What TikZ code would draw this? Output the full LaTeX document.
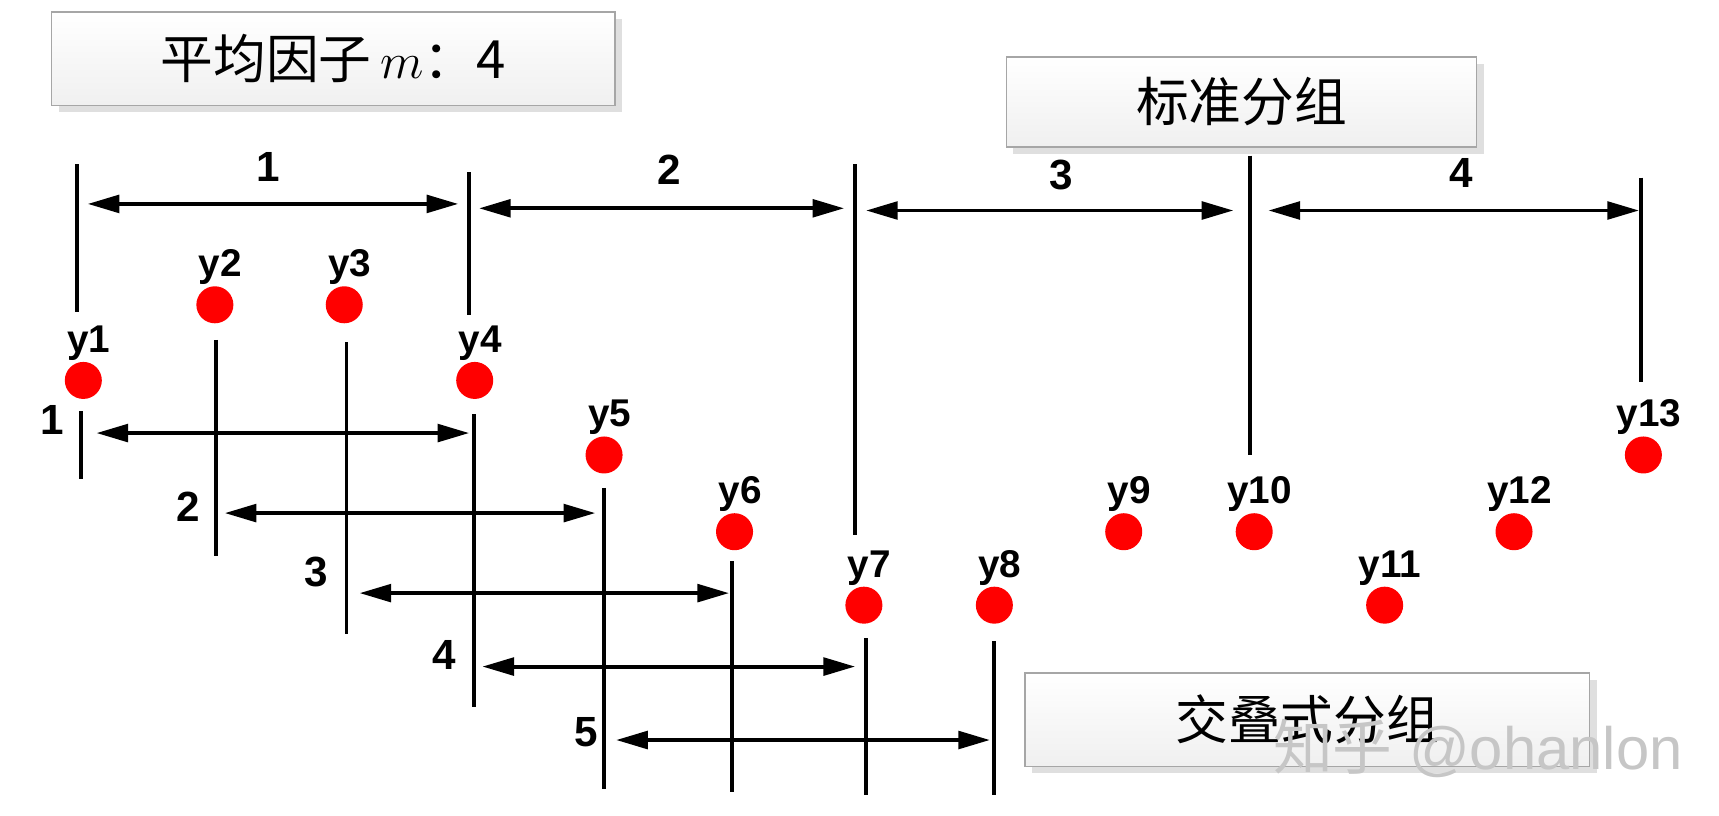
\documentclass[tikz,border=0pt]{standalone}
\usepackage{fontspec}
\setmainfont{Liberation Sans}
\newfontfamily\cjk{Noto Sans CJK SC}
\usetikzlibrary{arrows.meta,shadows}
\begin{document}
\begin{tikzpicture}[x=0.010963cm,y=-0.010963cm,
  dot/.style={circle,fill=red,inner sep=0pt,minimum size=0.37cm},
  lab/.style={font=\fontsize{11}{13}\selectfont\bfseries},
  num/.style={font=\fontsize{12}{14}\selectfont\bfseries},
  bar/.style={line width=1.1pt},
  arr/.style={line width=1.1pt,{Triangle[length=9pt,width=5pt]}-{Triangle[length=9pt,width=5pt]}},
  box/.style={draw=gray!70,top color=white,bottom color=gray!12,drop shadow={opacity=0.25,shadow xshift=2pt,shadow yshift=-2pt},font=\cjk\fontsize{15}{18}\selectfont}]
\useasboundingbox (0,0) rectangle (1568,744.3);
% boxes
\node[box,minimum width=514*0.010963cm,minimum height=85*0.010963cm] (bm) at (304,53.5) {平均因子\,$m$：4};
\node[box,minimum width=429*0.010963cm,minimum height=82*0.010963cm] (bs) at (1132.5,93) {标准分组};
\node[box,minimum width=515*0.010963cm,minimum height=85*0.010963cm] (bo) at (1192.5,656.5) {交叠式分组};
\node[text=gray!45,font=\fontsize{17}{20}\selectfont] (wm) at (1348,683) {{\cjk 知乎} @ohanlon};
% dots
\foreach \i/\x/\y in {1/76/347,2/196/278,3/314/278,4/433/347,5/551/415,6/670/485,7/788/552,8/907/552,9/1025/485,10/1144/485,11/1263/552,12/1381/485,13/1499/415}{
  \node[dot] (y\i) at (\x,\y) {};
  \node[lab,anchor=south] (ly\i) at (\x+5,\y-7) {y\i};
}
% standard grouping
\foreach \n/\x/\a/\b in {a/70/150/285,b/428/157/287,c/780/150/488,d/1140/142/415,e/1497/162/348}{
  \coordinate (s\n1) at (\x,\a); \coordinate (s\n2) at (\x,\b);
  \draw[bar] (s\n1) -- (s\n2);
}
\foreach \n/\xa/\xb/\y in {1/80/418/186,2/437/770/190,3/790/1125/192,4/1157/1495/192}{
  \coordinate (sa\n) at (\xa,\y); \coordinate (sb\n) at (\xb,\y);
  \draw[arr] (sa\n) -- (sb\n);
}
\node[num] (sl1) at (245,152) {1};
\node[num] (sl2) at (610,155) {2};
\node[num] (sl3) at (968,160) {3};
\node[num] (sl4) at (1333,158) {4};
% overlapping grouping
\foreach \n/\x/\a/\b in {a/74/375/437,b/197/310/507,c/316/312/578,d/432/378/645,e/551/445/720,f/668/512/722,g/790/582/725,h/907/585/725}{
  \coordinate (o\n1) at (\x,\a); \coordinate (o\n2) at (\x,\b);
  \draw[bar] (o\n1) -- (o\n2);
}
\foreach \n/\xa/\xb/\y in {1/88/428/395,2/205/543/468,3/328/665/541,4/440/780/608,5/562/903/675}{
  \coordinate (oa\n) at (\xa,\y); \coordinate (ob\n) at (\xb,\y);
  \draw[arr] (oa\n) -- (ob\n);
}
\node[num] (ol1) at (48,383) {1};
\node[num] (ol2) at (172,462) {2};
\node[num] (ol3) at (288,522) {3};
\node[num] (ol4) at (405,597) {4};
\node[num] (ol5) at (535,668) {5};
\end{tikzpicture}
\end{document}
